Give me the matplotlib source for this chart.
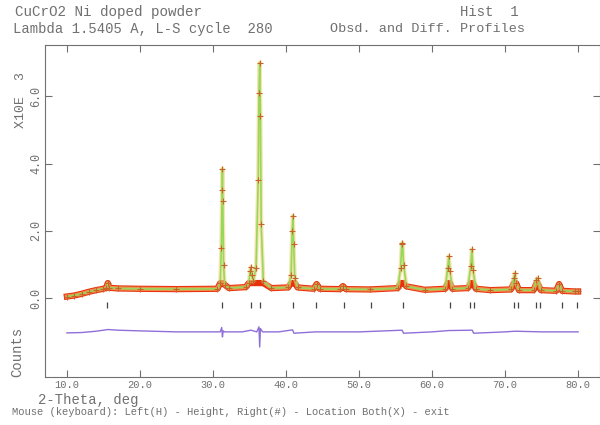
import numpy as np
import matplotlib
matplotlib.use("Agg")
import matplotlib.pyplot as plt

# %% data (2-theta in deg, counts in thousands)
obs_tth = [10.0, 11.0, 12.0, 13.0, 14.0, 15.0, 15.4, 15.6, 15.8, 17.0, 20.0, 25.0,
           30.6, 31.0, 31.15, 31.25, 31.3, 31.35, 31.45, 31.6, 32.2, 34.5,
           34.9, 35.1, 35.2, 35.3, 35.5, 35.9, 36.2, 36.3, 36.4, 36.5, 36.6, 36.9,
           38.0, 40.3, 40.7, 40.85, 40.95, 41.05, 41.2, 41.6, 43.8, 44.2, 44.6,
           47.4, 47.8, 48.2, 51.5, 55.3, 55.7, 55.85, 55.95, 56.1, 56.5, 59.0,
           61.8, 62.15, 62.3, 62.45, 62.8, 64.9, 65.3, 65.45, 65.6, 66.0, 68.0,
           70.8, 71.2, 71.35, 71.5, 71.9, 73.9, 74.3, 74.45, 74.9, 77.0, 77.4, 77.8,
           79.6, 80.0]
obs_int = [0.05, 0.08, 0.13, 0.19, 0.24, 0.28, 0.31, 0.45, 0.31, 0.29, 0.28, 0.27,
           0.28, 0.45, 1.5, 3.2, 3.85, 2.9, 1.0, 0.4, 0.3, 0.33,
           0.45, 0.8, 0.93, 0.7, 0.5, 0.9, 3.5, 6.1, 7.0, 5.4, 2.2, 0.5,
           0.3, 0.32, 0.7, 2.0, 2.45, 1.6, 0.6, 0.32, 0.28, 0.42, 0.28,
           0.27, 0.36, 0.27, 0.26, 0.3, 0.9, 1.6, 1.65, 1.0, 0.35, 0.25,
           0.28, 0.9, 1.25, 0.8, 0.28, 0.3, 0.95, 1.45, 0.85, 0.28, 0.24,
           0.26, 0.6, 0.75, 0.45, 0.24, 0.24, 0.55, 0.6, 0.24, 0.22, 0.42, 0.22,
           0.2, 0.2]

diff_tth = [10.0, 12.0, 14.0, 15.0, 15.6, 17.0, 20.0, 25.0, 30.0, 31.0, 31.2, 31.3, 31.4,
            31.6, 34.0, 35.2, 36.0, 36.3, 36.4, 36.5, 36.8, 39.0, 40.9, 41.1, 44.0,
            50.0, 55.9, 56.1, 60.0, 62.3, 65.5, 65.7, 70.0, 71.4, 75.0, 80.0]
diff_int = [-1.03, -1.02, -0.98, -0.95, -0.93, -0.95, -0.97, -1.0, -1.0, -1.0, -0.87, -1.15, -0.97,
            -1.0, -1.0, -0.95, -1.0, -0.85, -1.45, -0.9, -1.0, -1.0, -0.94, -1.04, -1.0,
            -1.0, -0.95, -1.04, -1.0, -0.96, -0.95, -1.04, -1.0, -0.98, -1.0, -1.0]

refl_tth = [15.5, 31.3, 35.2, 36.4, 40.9, 44.1, 47.9, 51.7, 56.0, 62.4, 65.2, 65.7,
            71.2, 71.8, 74.3, 74.8, 77.8, 79.8]
refl_y = -0.2

# %% figure
fig = plt.figure(figsize=(6.0, 4.25), dpi=100)
ax = fig.add_axes([45/600, 48/425, 555/600, 332/425])
grey = "#707070"
font = "Liberation Mono"

# thick red band of observed points near the background, green calc line on the peaks
ax.plot(obs_tth, np.minimum(obs_int, 0.45), color="#e8300c", lw=4.5, solid_joinstyle="round", zorder=2)
ax.plot(obs_tth, obs_int, color="#f2d27a", lw=3.0, alpha=0.6, zorder=3)
ax.plot(obs_tth, obs_int, color="#96d85c", lw=1.2, zorder=3)
ax.plot(obs_tth, obs_int, color="#c8642a", lw=0, marker="+", ms=4, mew=0.8, zorder=4)
ax.plot(diff_tth, diff_int, color="#8f6fd8", lw=1.0)
ax.plot(refl_tth, [refl_y] * len(refl_tth), lw=0, marker="|", ms=5, mew=0.9, color="#444444")

ax.set_xlim(7.0, 83.0)
ax.set_ylim(-2.34, 7.52)
ax.set_xticks([10, 20, 30, 40, 50, 60, 70, 80])
ax.set_xticklabels(["10.0", "20.0", "30.0", "40.0", "50.0", "60.0", "70.0", "80.0"],
                   fontfamily=font, fontsize=7.5, color=grey)
ax.set_yticks([0, 2, 4, 6])
ax.set_yticklabels(["0.0", "2.0", "4.0", "6.0"], fontfamily=font, fontsize=8.5,
                   color=grey, rotation=90, va="center")
ax.tick_params(direction="in", length=5, width=0.8, color=grey, top=True, right=True, pad=2)
for s in ax.spines.values():
    s.set_color(grey)
    s.set_linewidth(0.8)

# %% labels
fig.text(15/600, 1 - 12/425, "CuCrO2 Ni doped powder", fontfamily=font, fontsize=10.3,
         color=grey, va="center")
fig.text(460/600, 1 - 12/425, "Hist  1", fontfamily=font, fontsize=10, color=grey, va="center")
fig.text(13/600, 1 - 29/425, "Lambda 1.5405 A, L-S cycle  280", fontfamily=font, fontsize=10,
         color=grey, va="center")
fig.text(330/600, 1 - 29/425, "Obsd. and Diff. Profiles", fontfamily=font, fontsize=9.7,
         color=grey, va="center")
fig.text(21/600, 1 - 100/425, "X10E  3", fontfamily=font, fontsize=9.5, color=grey,
         rotation=90, ha="center", va="center")
fig.text(17/600, 1 - 352/425, "Counts", fontfamily=font, fontsize=10, color=grey,
         rotation=90, ha="center", va="center")
fig.text(38/600, 1 - 400/425, "2-Theta, deg", fontfamily=font, fontsize=10, color=grey,
         va="center")
fig.text(12/600, 1 - 412/425,
         "Mouse (keyboard): Left(H) - Height, Right(#) - Location Both(X) - exit",
         fontfamily=font, fontsize=7.6, color=grey, va="center")

fig.savefig("out.png", dpi=100)
